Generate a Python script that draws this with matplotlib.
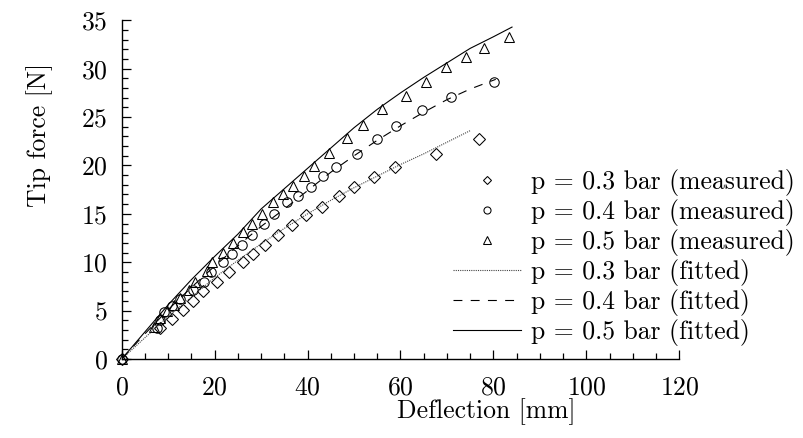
import matplotlib
matplotlib.use("Agg")
import matplotlib.pyplot as plt
from matplotlib.ticker import MultipleLocator

plt.rcParams['font.family'] = 'serif'
plt.rcParams['font.serif'] = ['cmr10']
plt.rcParams['mathtext.fontset'] = 'cm'
plt.rcParams['axes.unicode_minus'] = False
plt.rcParams['axes.formatter.use_mathtext'] = True

# measured data
x_03 = [0, 8.2, 10.8, 13.1, 15.4, 17.6, 20.6, 23.1, 26.0, 28.2, 30.9, 33.7, 36.6,
        39.7, 43.1, 46.7, 50.1, 54.2, 58.8, 67.6, 76.8]
y_03 = [0, 3.2, 4.1, 5.1, 6.0, 7.0, 8.0, 9.0, 10.0, 10.8, 11.8, 12.8, 13.8,
        14.9, 15.7, 16.8, 17.8, 18.8, 19.8, 21.2, 22.7]

x_04 = [0, 7.5, 8.2, 9.0, 10.8, 12.6, 15.4, 17.8, 19.2, 21.7, 23.8, 25.8, 28.1,
        30.7, 32.7, 35.6, 38.0, 40.8, 43.3, 46.1, 50.6, 54.9, 59.0, 64.7, 70.8, 80.2]
y_04 = [0, 3.2, 4.0, 4.9, 5.5, 6.2, 7.1, 8.0, 9.0, 10.0, 10.9, 11.8, 12.8,
        13.9, 15.0, 16.2, 16.8, 17.8, 18.9, 19.8, 21.2, 22.7, 24.1, 25.7, 27.1, 28.6]

x_05 = [0, 7.0, 8.2, 9.7, 11.3, 12.6, 14.5, 15.8, 18.3, 19.5, 21.7, 23.9, 26.0,
        28.1, 30.2, 32.6, 34.7, 36.8, 39.3, 41.4, 44.7, 48.4, 51.9, 56.0, 61.1,
        65.4, 69.8, 74.1, 78.0, 83.4]
y_05 = [0, 3.3, 4.2, 5.0, 5.6, 6.3, 7.1, 8.0, 9.1, 10.0, 11.0, 12.0, 13.1,
        13.9, 15.0, 16.2, 17.0, 17.9, 18.9, 19.9, 21.3, 22.8, 24.2, 25.8, 27.2,
        28.6, 30.2, 31.2, 32.1, 33.3]

# fitted curves
fx_03 = [0, 5, 10, 15, 20, 25, 30, 35, 40, 45, 50, 55, 60, 65, 70, 75]
fy_03 = [0, 2.2, 4.4, 6.4, 8.4, 10.2, 11.9, 13.5, 15.0, 16.4, 17.7, 18.9, 20.1, 21.2, 22.4, 23.6]

fx_04 = [0, 5, 10, 15, 20, 25, 30, 35, 40, 45, 50, 55, 60, 65, 70, 75, 80.5]
fy_04 = [0, 2.6, 5.1, 7.4, 9.6, 11.7, 13.7, 15.5, 17.4, 19.3, 21.0, 22.6, 24.1, 25.5, 26.8, 27.9, 28.9]

fx_05 = [0, 5, 10, 15, 20, 25, 30, 35, 40, 45, 50, 55, 60, 65, 70, 75, 80, 84]
fy_05 = [0, 2.8, 5.6, 8.2, 10.6, 12.9, 15.5, 17.6, 19.7, 21.8, 23.9, 25.8, 27.5, 29.1, 30.6, 32.1, 33.3, 34.3]

labels_meas = ['p = 0.3 bar (measured)', 'p = 0.4 bar (measured)', 'p = 0.5 bar (measured)']
labels_fit = ['p = 0.3 bar (fitted)', 'p = 0.4 bar (fitted)', 'p = 0.5 bar (fitted)']

W, H = 804, 438
fig = plt.figure(figsize=(W / 100, H / 100), dpi=100)
ax = fig.add_axes([121.7 / W, 1 - 359 / H, (679.3 - 121.7) / W, (359 - 20.3) / H])

mk = dict(linestyle='none', markerfacecolor='none', markeredgecolor='black',
          markeredgewidth=0.75, clip_on=False)
h1, = ax.plot(x_03, y_03, marker='D', markersize=5.8, label=labels_meas[0], **mk)
h2, = ax.plot(x_04, y_04, marker='o', markersize=6.8, label=labels_meas[1], **mk)
h3, = ax.plot(x_05, y_05, marker='^', markersize=7.8, label=labels_meas[2], **mk)

h4, = ax.plot(fx_03, fy_03, color='#444444', linestyle=(0, (1, 1)), linewidth=0.8,
              label=labels_fit[0])
h5, = ax.plot(fx_04, fy_04, color='black', linestyle=(0, (8, 7.5)), linewidth=0.8,
              label=labels_fit[1])
h6, = ax.plot(fx_05, fy_05, color='black', linestyle='-', linewidth=0.8,
              label=labels_fit[2])

ax.set_xlim(0, 120)
ax.set_ylim(0, 35)
ax.xaxis.set_major_locator(MultipleLocator(20))
ax.xaxis.set_minor_locator(MultipleLocator(5))
ax.yaxis.set_major_locator(MultipleLocator(5))
ax.yaxis.set_minor_locator(MultipleLocator(1))

for s in ['top', 'right']:
    ax.spines[s].set_visible(False)
for s in ['left', 'bottom']:
    ax.spines[s].set_linewidth(1.0)

ax.tick_params(which='both', direction='in', top=False, right=False, labelsize=18.5, width=0.9)
ax.tick_params(which='major', length=6.5)
ax.tick_params(which='minor', length=4)
ax.tick_params(axis='y', which='major', pad=10)
ax.tick_params(axis='x', which='major', pad=12)

fig.text(486 / W, 1 - 412 / H, 'Deflection [mm]', ha='center', va='center', fontsize=18.5)
fig.text(40 / W, 1 - 135 / H, 'Tip force [N]', ha='center', va='center', rotation=90, fontsize=18.5)

leg = fig.legend(handles=[h1, h2, h3, h4, h5, h6], loc='upper left',
                 bbox_to_anchor=(453 / W, 1 - 169 / H), bbox_transform=fig.transFigure,
                 frameon=False, fontsize=18.5, borderpad=0, borderaxespad=0,
                 handlelength=2.65, handletextpad=0.4, labelspacing=0.12,
                 markerscale=0.75, numpoints=1)

fig.savefig('out.png', dpi=100)
